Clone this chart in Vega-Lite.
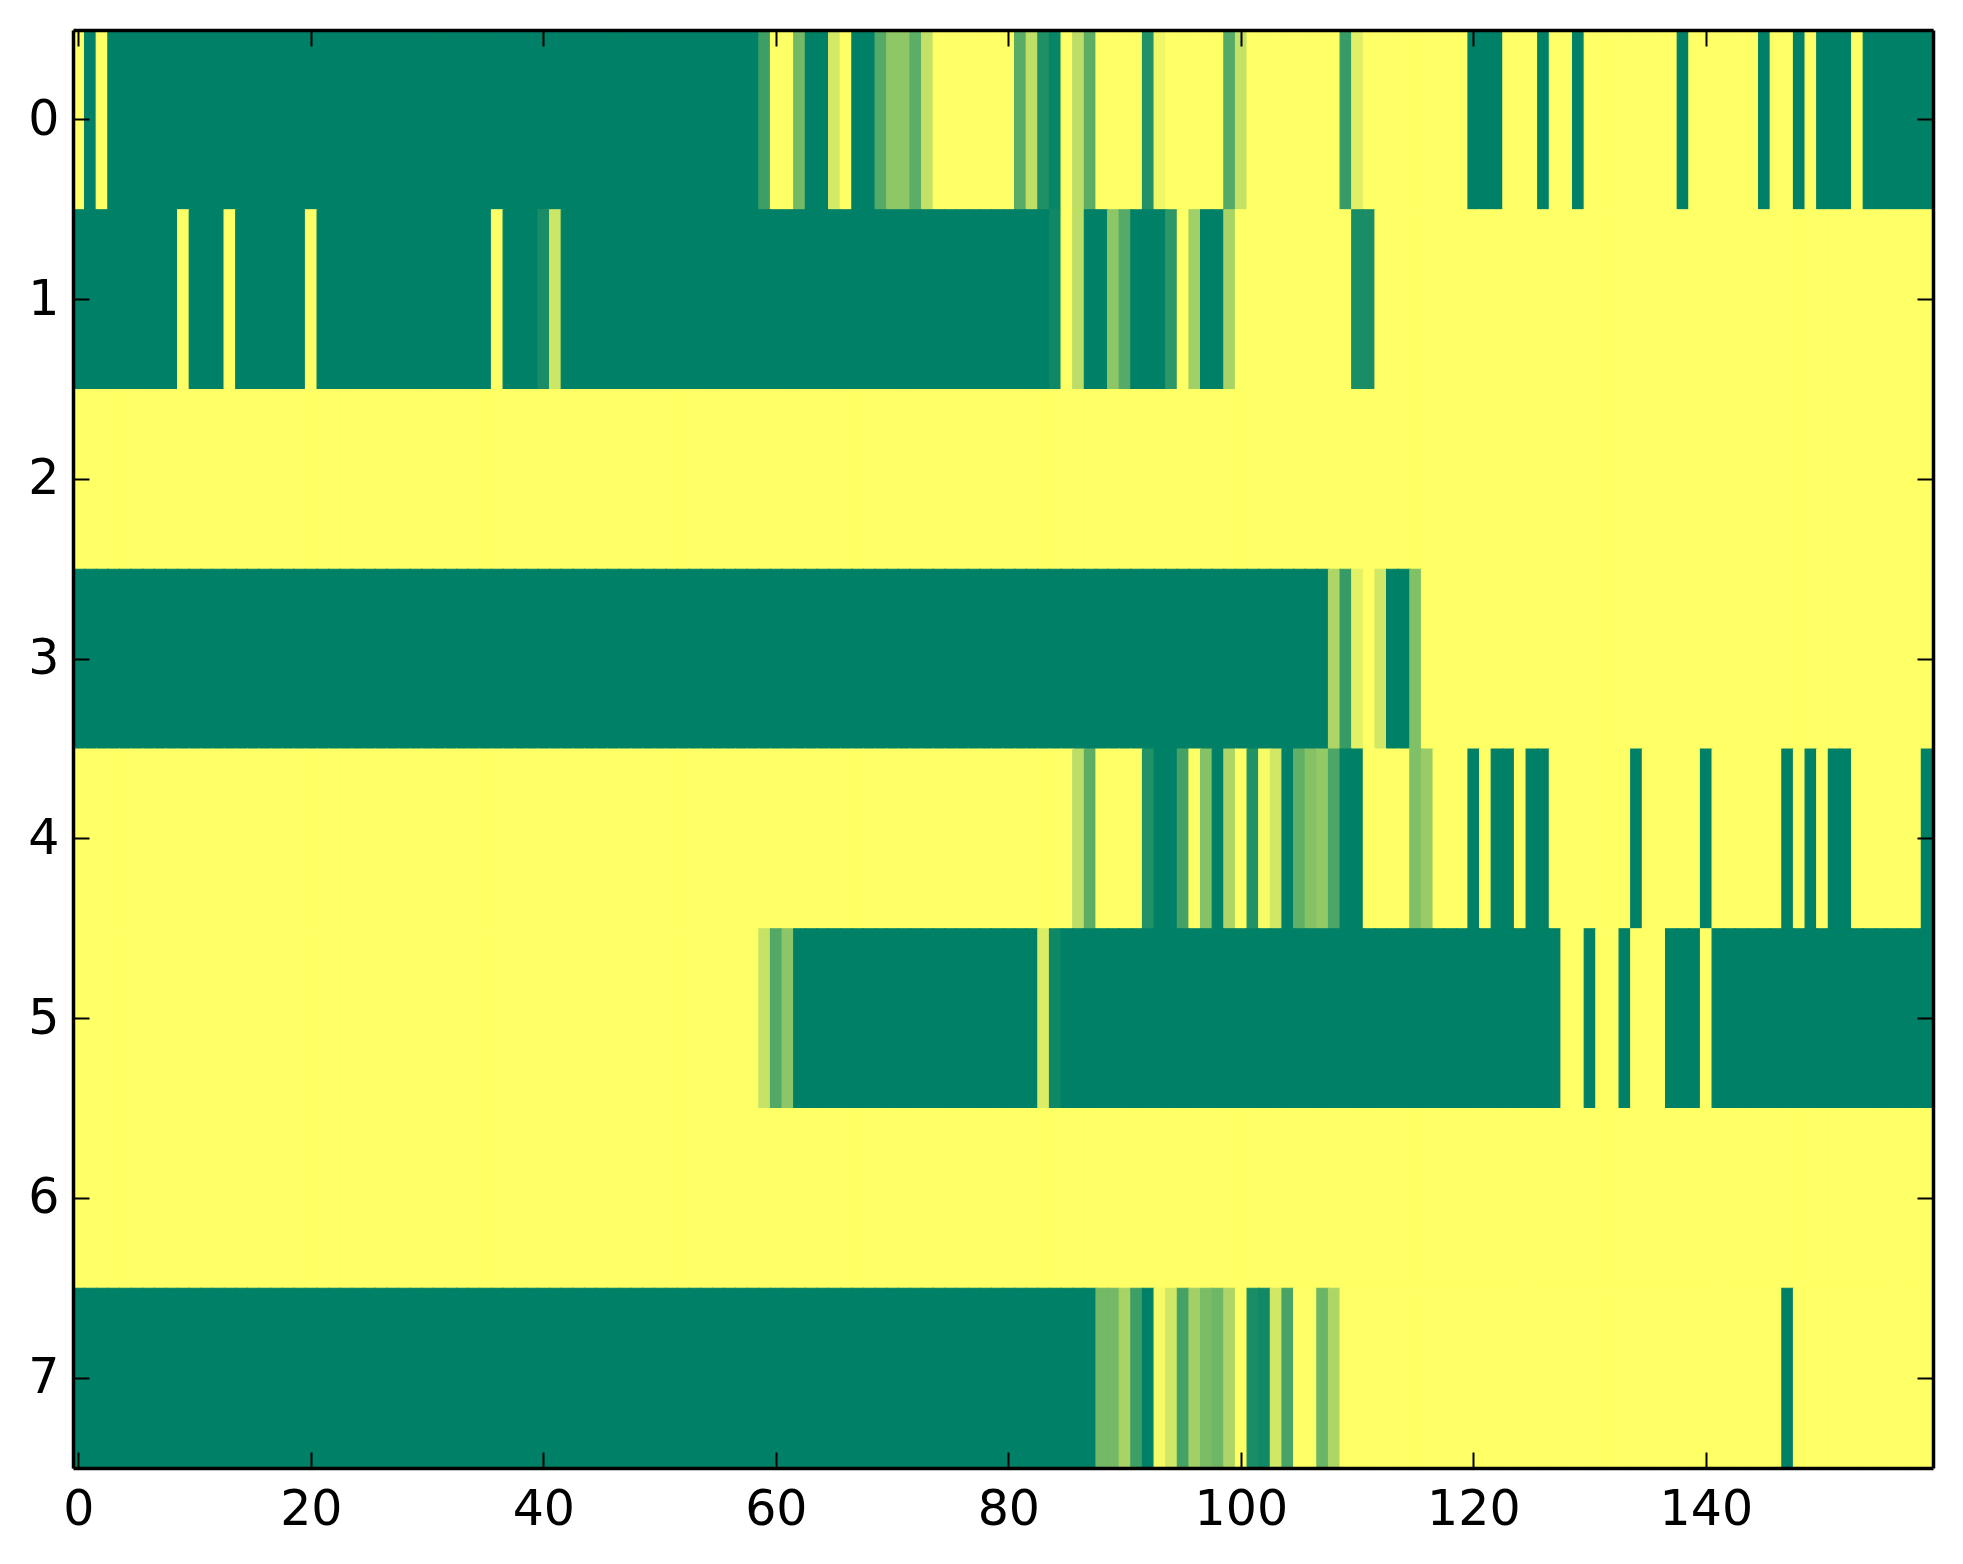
{
  "$schema": "https://vega.github.io/schema/vega-lite/v6.json",
  "width": 1860,
  "height": 1438,
  "autosize": {"type": "none"},
  "padding": {"left": 73, "top": 30, "right": 30, "bottom": 96},
  "background": "white",
  "config": {"view": {"stroke": null}},
  "data": {"values": [
{"r":0,"c":0,"v":1},{"r":0,"c":1,"v":0},{"r":0,"c":2,"v":1},{"r":0,"c":3,"v":0},{"r":0,"c":4,"v":0},{"r":0,"c":5,"v":0},{"r":0,"c":6,"v":0},{"r":0,"c":7,"v":0},{"r":0,"c":8,"v":0},{"r":0,"c":9,"v":0},
{"r":0,"c":10,"v":0},{"r":0,"c":11,"v":0},{"r":0,"c":12,"v":0},{"r":0,"c":13,"v":0},{"r":0,"c":14,"v":0},{"r":0,"c":15,"v":0},{"r":0,"c":16,"v":0},{"r":0,"c":17,"v":0},{"r":0,"c":18,"v":0},{"r":0,"c":19,"v":0},
{"r":0,"c":20,"v":0},{"r":0,"c":21,"v":0},{"r":0,"c":22,"v":0},{"r":0,"c":23,"v":0},{"r":0,"c":24,"v":0},{"r":0,"c":25,"v":0},{"r":0,"c":26,"v":0},{"r":0,"c":27,"v":0},{"r":0,"c":28,"v":0},{"r":0,"c":29,"v":0},
{"r":0,"c":30,"v":0},{"r":0,"c":31,"v":0},{"r":0,"c":32,"v":0},{"r":0,"c":33,"v":0},{"r":0,"c":34,"v":0},{"r":0,"c":35,"v":0},{"r":0,"c":36,"v":0},{"r":0,"c":37,"v":0},{"r":0,"c":38,"v":0},{"r":0,"c":39,"v":0},
{"r":0,"c":40,"v":0},{"r":0,"c":41,"v":0},{"r":0,"c":42,"v":0},{"r":0,"c":43,"v":0},{"r":0,"c":44,"v":0},{"r":0,"c":45,"v":0},{"r":0,"c":46,"v":0},{"r":0,"c":47,"v":0},{"r":0,"c":48,"v":0},{"r":0,"c":49,"v":0},
{"r":0,"c":50,"v":0},{"r":0,"c":51,"v":0},{"r":0,"c":52,"v":0},{"r":0,"c":53,"v":0},{"r":0,"c":54,"v":0},{"r":0,"c":55,"v":0},{"r":0,"c":56,"v":0},{"r":0,"c":57,"v":0},{"r":0,"c":58,"v":0},{"r":0,"c":59,"v":0.24},
{"r":0,"c":60,"v":1},{"r":0,"c":61,"v":1},{"r":0,"c":62,"v":0.45},{"r":0,"c":63,"v":0},{"r":0,"c":64,"v":0},{"r":0,"c":65,"v":0.83},{"r":0,"c":66,"v":1},{"r":0,"c":67,"v":0},{"r":0,"c":68,"v":0},{"r":0,"c":69,"v":0.33},
{"r":0,"c":70,"v":0.56},{"r":0,"c":71,"v":0.56},{"r":0,"c":72,"v":0.36},{"r":0,"c":73,"v":0.76},{"r":0,"c":74,"v":1},{"r":0,"c":75,"v":1},{"r":0,"c":76,"v":1},{"r":0,"c":77,"v":1},{"r":0,"c":78,"v":1},{"r":0,"c":79,"v":1},
{"r":0,"c":80,"v":1},{"r":0,"c":81,"v":0.35},{"r":0,"c":82,"v":0.75},{"r":0,"c":83,"v":0.12},{"r":0,"c":84,"v":0.03},{"r":0,"c":85,"v":1},{"r":0,"c":86,"v":0.74},{"r":0,"c":87,"v":0.36},{"r":0,"c":88,"v":1},{"r":0,"c":89,"v":1},
{"r":0,"c":90,"v":1},{"r":0,"c":91,"v":1},{"r":0,"c":92,"v":0.13},{"r":0,"c":93,"v":0.94},{"r":0,"c":94,"v":1},{"r":0,"c":95,"v":1},{"r":0,"c":96,"v":1},{"r":0,"c":97,"v":1},{"r":0,"c":98,"v":1},{"r":0,"c":99,"v":0.33},
{"r":0,"c":100,"v":0.77},{"r":0,"c":101,"v":1},{"r":0,"c":102,"v":1},{"r":0,"c":103,"v":1},{"r":0,"c":104,"v":1},{"r":0,"c":105,"v":1},{"r":0,"c":106,"v":1},{"r":0,"c":107,"v":1},{"r":0,"c":108,"v":1},{"r":0,"c":109,"v":0.21},
{"r":0,"c":110,"v":0.88},{"r":0,"c":111,"v":1},{"r":0,"c":112,"v":1},{"r":0,"c":113,"v":1},{"r":0,"c":114,"v":1},{"r":0,"c":115,"v":1},{"r":0,"c":116,"v":1},{"r":0,"c":117,"v":1},{"r":0,"c":118,"v":1},{"r":0,"c":119,"v":1},
{"r":0,"c":120,"v":0},{"r":0,"c":121,"v":0},{"r":0,"c":122,"v":0},{"r":0,"c":123,"v":1},{"r":0,"c":124,"v":1},{"r":0,"c":125,"v":1},{"r":0,"c":126,"v":0},{"r":0,"c":127,"v":1},{"r":0,"c":128,"v":1},{"r":0,"c":129,"v":0},
{"r":0,"c":130,"v":1},{"r":0,"c":131,"v":1},{"r":0,"c":132,"v":1},{"r":0,"c":133,"v":1},{"r":0,"c":134,"v":1},{"r":0,"c":135,"v":1},{"r":0,"c":136,"v":1},{"r":0,"c":137,"v":1},{"r":0,"c":138,"v":0},{"r":0,"c":139,"v":1},
{"r":0,"c":140,"v":1},{"r":0,"c":141,"v":1},{"r":0,"c":142,"v":1},{"r":0,"c":143,"v":1},{"r":0,"c":144,"v":1},{"r":0,"c":145,"v":0},{"r":0,"c":146,"v":1},{"r":0,"c":147,"v":1},{"r":0,"c":148,"v":0},{"r":0,"c":149,"v":1},
{"r":0,"c":150,"v":0},{"r":0,"c":151,"v":0},{"r":0,"c":152,"v":0},{"r":0,"c":153,"v":1},{"r":0,"c":154,"v":0},{"r":0,"c":155,"v":0},{"r":0,"c":156,"v":0},{"r":0,"c":157,"v":0},{"r":0,"c":158,"v":0},{"r":0,"c":159,"v":0},
{"r":1,"c":0,"v":0},{"r":1,"c":1,"v":0},{"r":1,"c":2,"v":0},{"r":1,"c":3,"v":0},{"r":1,"c":4,"v":0},{"r":1,"c":5,"v":0},{"r":1,"c":6,"v":0},{"r":1,"c":7,"v":0},{"r":1,"c":8,"v":0},{"r":1,"c":9,"v":1},
{"r":1,"c":10,"v":0},{"r":1,"c":11,"v":0},{"r":1,"c":12,"v":0},{"r":1,"c":13,"v":1},{"r":1,"c":14,"v":0},{"r":1,"c":15,"v":0},{"r":1,"c":16,"v":0},{"r":1,"c":17,"v":0},{"r":1,"c":18,"v":0},{"r":1,"c":19,"v":0},
{"r":1,"c":20,"v":1},{"r":1,"c":21,"v":0},{"r":1,"c":22,"v":0},{"r":1,"c":23,"v":0},{"r":1,"c":24,"v":0},{"r":1,"c":25,"v":0},{"r":1,"c":26,"v":0},{"r":1,"c":27,"v":0},{"r":1,"c":28,"v":0},{"r":1,"c":29,"v":0},
{"r":1,"c":30,"v":0},{"r":1,"c":31,"v":0},{"r":1,"c":32,"v":0},{"r":1,"c":33,"v":0},{"r":1,"c":34,"v":0},{"r":1,"c":35,"v":0},{"r":1,"c":36,"v":1},{"r":1,"c":37,"v":0},{"r":1,"c":38,"v":0},{"r":1,"c":39,"v":0},
{"r":1,"c":40,"v":0.1},{"r":1,"c":41,"v":0.8},{"r":1,"c":42,"v":0},{"r":1,"c":43,"v":0},{"r":1,"c":44,"v":0},{"r":1,"c":45,"v":0},{"r":1,"c":46,"v":0},{"r":1,"c":47,"v":0},{"r":1,"c":48,"v":0},{"r":1,"c":49,"v":0},
{"r":1,"c":50,"v":0},{"r":1,"c":51,"v":0},{"r":1,"c":52,"v":0},{"r":1,"c":53,"v":0},{"r":1,"c":54,"v":0},{"r":1,"c":55,"v":0},{"r":1,"c":56,"v":0},{"r":1,"c":57,"v":0},{"r":1,"c":58,"v":0},{"r":1,"c":59,"v":0},
{"r":1,"c":60,"v":0},{"r":1,"c":61,"v":0},{"r":1,"c":62,"v":0},{"r":1,"c":63,"v":0},{"r":1,"c":64,"v":0},{"r":1,"c":65,"v":0},{"r":1,"c":66,"v":0},{"r":1,"c":67,"v":0},{"r":1,"c":68,"v":0},{"r":1,"c":69,"v":0},
{"r":1,"c":70,"v":0},{"r":1,"c":71,"v":0},{"r":1,"c":72,"v":0},{"r":1,"c":73,"v":0},{"r":1,"c":74,"v":0},{"r":1,"c":75,"v":0},{"r":1,"c":76,"v":0},{"r":1,"c":77,"v":0},{"r":1,"c":78,"v":0},{"r":1,"c":79,"v":0},
{"r":1,"c":80,"v":0},{"r":1,"c":81,"v":0},{"r":1,"c":82,"v":0},{"r":1,"c":83,"v":0},{"r":1,"c":84,"v":0.06},{"r":1,"c":85,"v":1},{"r":1,"c":86,"v":0.74},{"r":1,"c":87,"v":0},{"r":1,"c":88,"v":0},{"r":1,"c":89,"v":0.55},
{"r":1,"c":90,"v":0.33},{"r":1,"c":91,"v":0},{"r":1,"c":92,"v":0},{"r":1,"c":93,"v":0},{"r":1,"c":94,"v":0.18},{"r":1,"c":95,"v":1},{"r":1,"c":96,"v":0.63},{"r":1,"c":97,"v":0},{"r":1,"c":98,"v":0},{"r":1,"c":99,"v":0.66},
{"r":1,"c":100,"v":1},{"r":1,"c":101,"v":1},{"r":1,"c":102,"v":1},{"r":1,"c":103,"v":1},{"r":1,"c":104,"v":1},{"r":1,"c":105,"v":1},{"r":1,"c":106,"v":1},{"r":1,"c":107,"v":1},{"r":1,"c":108,"v":1},{"r":1,"c":109,"v":1},
{"r":1,"c":110,"v":0.1},{"r":1,"c":111,"v":0.1},{"r":1,"c":112,"v":1},{"r":1,"c":113,"v":1},{"r":1,"c":114,"v":1},{"r":1,"c":115,"v":1},{"r":1,"c":116,"v":1},{"r":1,"c":117,"v":1},{"r":1,"c":118,"v":1},{"r":1,"c":119,"v":1},
{"r":1,"c":120,"v":1},{"r":1,"c":121,"v":1},{"r":1,"c":122,"v":1},{"r":1,"c":123,"v":1},{"r":1,"c":124,"v":1},{"r":1,"c":125,"v":1},{"r":1,"c":126,"v":1},{"r":1,"c":127,"v":1},{"r":1,"c":128,"v":1},{"r":1,"c":129,"v":1},
{"r":1,"c":130,"v":1},{"r":1,"c":131,"v":1},{"r":1,"c":132,"v":1},{"r":1,"c":133,"v":1},{"r":1,"c":134,"v":1},{"r":1,"c":135,"v":1},{"r":1,"c":136,"v":1},{"r":1,"c":137,"v":1},{"r":1,"c":138,"v":1},{"r":1,"c":139,"v":1},
{"r":1,"c":140,"v":1},{"r":1,"c":141,"v":1},{"r":1,"c":142,"v":1},{"r":1,"c":143,"v":1},{"r":1,"c":144,"v":1},{"r":1,"c":145,"v":1},{"r":1,"c":146,"v":1},{"r":1,"c":147,"v":1},{"r":1,"c":148,"v":1},{"r":1,"c":149,"v":1},
{"r":1,"c":150,"v":1},{"r":1,"c":151,"v":1},{"r":1,"c":152,"v":1},{"r":1,"c":153,"v":1},{"r":1,"c":154,"v":1},{"r":1,"c":155,"v":1},{"r":1,"c":156,"v":1},{"r":1,"c":157,"v":1},{"r":1,"c":158,"v":1},{"r":1,"c":159,"v":1},
{"r":2,"c":0,"v":1},{"r":2,"c":1,"v":1},{"r":2,"c":2,"v":1},{"r":2,"c":3,"v":1},{"r":2,"c":4,"v":1},{"r":2,"c":5,"v":1},{"r":2,"c":6,"v":1},{"r":2,"c":7,"v":1},{"r":2,"c":8,"v":1},{"r":2,"c":9,"v":1},
{"r":2,"c":10,"v":1},{"r":2,"c":11,"v":1},{"r":2,"c":12,"v":1},{"r":2,"c":13,"v":1},{"r":2,"c":14,"v":1},{"r":2,"c":15,"v":1},{"r":2,"c":16,"v":1},{"r":2,"c":17,"v":1},{"r":2,"c":18,"v":1},{"r":2,"c":19,"v":1},
{"r":2,"c":20,"v":1},{"r":2,"c":21,"v":1},{"r":2,"c":22,"v":1},{"r":2,"c":23,"v":1},{"r":2,"c":24,"v":1},{"r":2,"c":25,"v":1},{"r":2,"c":26,"v":1},{"r":2,"c":27,"v":1},{"r":2,"c":28,"v":1},{"r":2,"c":29,"v":1},
{"r":2,"c":30,"v":1},{"r":2,"c":31,"v":1},{"r":2,"c":32,"v":1},{"r":2,"c":33,"v":1},{"r":2,"c":34,"v":1},{"r":2,"c":35,"v":1},{"r":2,"c":36,"v":1},{"r":2,"c":37,"v":1},{"r":2,"c":38,"v":1},{"r":2,"c":39,"v":1},
{"r":2,"c":40,"v":1},{"r":2,"c":41,"v":1},{"r":2,"c":42,"v":1},{"r":2,"c":43,"v":1},{"r":2,"c":44,"v":1},{"r":2,"c":45,"v":1},{"r":2,"c":46,"v":1},{"r":2,"c":47,"v":1},{"r":2,"c":48,"v":1},{"r":2,"c":49,"v":1},
{"r":2,"c":50,"v":1},{"r":2,"c":51,"v":1},{"r":2,"c":52,"v":1},{"r":2,"c":53,"v":1},{"r":2,"c":54,"v":1},{"r":2,"c":55,"v":1},{"r":2,"c":56,"v":1},{"r":2,"c":57,"v":1},{"r":2,"c":58,"v":1},{"r":2,"c":59,"v":1},
{"r":2,"c":60,"v":1},{"r":2,"c":61,"v":1},{"r":2,"c":62,"v":1},{"r":2,"c":63,"v":1},{"r":2,"c":64,"v":1},{"r":2,"c":65,"v":1},{"r":2,"c":66,"v":1},{"r":2,"c":67,"v":1},{"r":2,"c":68,"v":1},{"r":2,"c":69,"v":1},
{"r":2,"c":70,"v":1},{"r":2,"c":71,"v":1},{"r":2,"c":72,"v":1},{"r":2,"c":73,"v":1},{"r":2,"c":74,"v":1},{"r":2,"c":75,"v":1},{"r":2,"c":76,"v":1},{"r":2,"c":77,"v":1},{"r":2,"c":78,"v":1},{"r":2,"c":79,"v":1},
{"r":2,"c":80,"v":1},{"r":2,"c":81,"v":1},{"r":2,"c":82,"v":1},{"r":2,"c":83,"v":1},{"r":2,"c":84,"v":1},{"r":2,"c":85,"v":1},{"r":2,"c":86,"v":1},{"r":2,"c":87,"v":1},{"r":2,"c":88,"v":1},{"r":2,"c":89,"v":1},
{"r":2,"c":90,"v":1},{"r":2,"c":91,"v":1},{"r":2,"c":92,"v":1},{"r":2,"c":93,"v":1},{"r":2,"c":94,"v":1},{"r":2,"c":95,"v":1},{"r":2,"c":96,"v":1},{"r":2,"c":97,"v":1},{"r":2,"c":98,"v":1},{"r":2,"c":99,"v":1},
{"r":2,"c":100,"v":1},{"r":2,"c":101,"v":1},{"r":2,"c":102,"v":1},{"r":2,"c":103,"v":1},{"r":2,"c":104,"v":1},{"r":2,"c":105,"v":1},{"r":2,"c":106,"v":1},{"r":2,"c":107,"v":1},{"r":2,"c":108,"v":1},{"r":2,"c":109,"v":1},
{"r":2,"c":110,"v":1},{"r":2,"c":111,"v":1},{"r":2,"c":112,"v":1},{"r":2,"c":113,"v":1},{"r":2,"c":114,"v":1},{"r":2,"c":115,"v":1},{"r":2,"c":116,"v":1},{"r":2,"c":117,"v":1},{"r":2,"c":118,"v":1},{"r":2,"c":119,"v":1},
{"r":2,"c":120,"v":1},{"r":2,"c":121,"v":1},{"r":2,"c":122,"v":1},{"r":2,"c":123,"v":1},{"r":2,"c":124,"v":1},{"r":2,"c":125,"v":1},{"r":2,"c":126,"v":1},{"r":2,"c":127,"v":1},{"r":2,"c":128,"v":1},{"r":2,"c":129,"v":1},
{"r":2,"c":130,"v":1},{"r":2,"c":131,"v":1},{"r":2,"c":132,"v":1},{"r":2,"c":133,"v":1},{"r":2,"c":134,"v":1},{"r":2,"c":135,"v":1},{"r":2,"c":136,"v":1},{"r":2,"c":137,"v":1},{"r":2,"c":138,"v":1},{"r":2,"c":139,"v":1},
{"r":2,"c":140,"v":1},{"r":2,"c":141,"v":1},{"r":2,"c":142,"v":1},{"r":2,"c":143,"v":1},{"r":2,"c":144,"v":1},{"r":2,"c":145,"v":1},{"r":2,"c":146,"v":1},{"r":2,"c":147,"v":1},{"r":2,"c":148,"v":1},{"r":2,"c":149,"v":1},
{"r":2,"c":150,"v":1},{"r":2,"c":151,"v":1},{"r":2,"c":152,"v":1},{"r":2,"c":153,"v":1},{"r":2,"c":154,"v":1},{"r":2,"c":155,"v":1},{"r":2,"c":156,"v":1},{"r":2,"c":157,"v":1},{"r":2,"c":158,"v":1},{"r":2,"c":159,"v":1},
{"r":3,"c":0,"v":0},{"r":3,"c":1,"v":0},{"r":3,"c":2,"v":0},{"r":3,"c":3,"v":0},{"r":3,"c":4,"v":0},{"r":3,"c":5,"v":0},{"r":3,"c":6,"v":0},{"r":3,"c":7,"v":0},{"r":3,"c":8,"v":0},{"r":3,"c":9,"v":0},
{"r":3,"c":10,"v":0},{"r":3,"c":11,"v":0},{"r":3,"c":12,"v":0},{"r":3,"c":13,"v":0},{"r":3,"c":14,"v":0},{"r":3,"c":15,"v":0},{"r":3,"c":16,"v":0},{"r":3,"c":17,"v":0},{"r":3,"c":18,"v":0},{"r":3,"c":19,"v":0},
{"r":3,"c":20,"v":0},{"r":3,"c":21,"v":0},{"r":3,"c":22,"v":0},{"r":3,"c":23,"v":0},{"r":3,"c":24,"v":0},{"r":3,"c":25,"v":0},{"r":3,"c":26,"v":0},{"r":3,"c":27,"v":0},{"r":3,"c":28,"v":0},{"r":3,"c":29,"v":0},
{"r":3,"c":30,"v":0},{"r":3,"c":31,"v":0},{"r":3,"c":32,"v":0},{"r":3,"c":33,"v":0},{"r":3,"c":34,"v":0},{"r":3,"c":35,"v":0},{"r":3,"c":36,"v":0},{"r":3,"c":37,"v":0},{"r":3,"c":38,"v":0},{"r":3,"c":39,"v":0},
{"r":3,"c":40,"v":0},{"r":3,"c":41,"v":0},{"r":3,"c":42,"v":0},{"r":3,"c":43,"v":0},{"r":3,"c":44,"v":0},{"r":3,"c":45,"v":0},{"r":3,"c":46,"v":0},{"r":3,"c":47,"v":0},{"r":3,"c":48,"v":0},{"r":3,"c":49,"v":0},
{"r":3,"c":50,"v":0},{"r":3,"c":51,"v":0},{"r":3,"c":52,"v":0},{"r":3,"c":53,"v":0},{"r":3,"c":54,"v":0},{"r":3,"c":55,"v":0},{"r":3,"c":56,"v":0},{"r":3,"c":57,"v":0},{"r":3,"c":58,"v":0},{"r":3,"c":59,"v":0},
{"r":3,"c":60,"v":0},{"r":3,"c":61,"v":0},{"r":3,"c":62,"v":0},{"r":3,"c":63,"v":0},{"r":3,"c":64,"v":0},{"r":3,"c":65,"v":0},{"r":3,"c":66,"v":0},{"r":3,"c":67,"v":0},{"r":3,"c":68,"v":0},{"r":3,"c":69,"v":0},
{"r":3,"c":70,"v":0},{"r":3,"c":71,"v":0},{"r":3,"c":72,"v":0},{"r":3,"c":73,"v":0},{"r":3,"c":74,"v":0},{"r":3,"c":75,"v":0},{"r":3,"c":76,"v":0},{"r":3,"c":77,"v":0},{"r":3,"c":78,"v":0},{"r":3,"c":79,"v":0},
{"r":3,"c":80,"v":0},{"r":3,"c":81,"v":0},{"r":3,"c":82,"v":0},{"r":3,"c":83,"v":0},{"r":3,"c":84,"v":0},{"r":3,"c":85,"v":0},{"r":3,"c":86,"v":0},{"r":3,"c":87,"v":0},{"r":3,"c":88,"v":0},{"r":3,"c":89,"v":0},
{"r":3,"c":90,"v":0},{"r":3,"c":91,"v":0},{"r":3,"c":92,"v":0},{"r":3,"c":93,"v":0},{"r":3,"c":94,"v":0},{"r":3,"c":95,"v":0},{"r":3,"c":96,"v":0},{"r":3,"c":97,"v":0},{"r":3,"c":98,"v":0},{"r":3,"c":99,"v":0},
{"r":3,"c":100,"v":0},{"r":3,"c":101,"v":0},{"r":3,"c":102,"v":0},{"r":3,"c":103,"v":0},{"r":3,"c":104,"v":0},{"r":3,"c":105,"v":0},{"r":3,"c":106,"v":0},{"r":3,"c":107,"v":0},{"r":3,"c":108,"v":0.68},{"r":3,"c":109,"v":0.21},
{"r":3,"c":110,"v":0.89},{"r":3,"c":111,"v":1},{"r":3,"c":112,"v":0.82},{"r":3,"c":113,"v":0},{"r":3,"c":114,"v":0},{"r":3,"c":115,"v":0.5},{"r":3,"c":116,"v":1},{"r":3,"c":117,"v":1},{"r":3,"c":118,"v":1},{"r":3,"c":119,"v":1},
{"r":3,"c":120,"v":1},{"r":3,"c":121,"v":1},{"r":3,"c":122,"v":1},{"r":3,"c":123,"v":1},{"r":3,"c":124,"v":1},{"r":3,"c":125,"v":1},{"r":3,"c":126,"v":1},{"r":3,"c":127,"v":1},{"r":3,"c":128,"v":1},{"r":3,"c":129,"v":1},
{"r":3,"c":130,"v":1},{"r":3,"c":131,"v":1},{"r":3,"c":132,"v":1},{"r":3,"c":133,"v":1},{"r":3,"c":134,"v":1},{"r":3,"c":135,"v":1},{"r":3,"c":136,"v":1},{"r":3,"c":137,"v":1},{"r":3,"c":138,"v":1},{"r":3,"c":139,"v":1},
{"r":3,"c":140,"v":1},{"r":3,"c":141,"v":1},{"r":3,"c":142,"v":1},{"r":3,"c":143,"v":1},{"r":3,"c":144,"v":1},{"r":3,"c":145,"v":1},{"r":3,"c":146,"v":1},{"r":3,"c":147,"v":1},{"r":3,"c":148,"v":1},{"r":3,"c":149,"v":1},
{"r":3,"c":150,"v":1},{"r":3,"c":151,"v":1},{"r":3,"c":152,"v":1},{"r":3,"c":153,"v":1},{"r":3,"c":154,"v":1},{"r":3,"c":155,"v":1},{"r":3,"c":156,"v":1},{"r":3,"c":157,"v":1},{"r":3,"c":158,"v":1},{"r":3,"c":159,"v":1},
{"r":4,"c":0,"v":1},{"r":4,"c":1,"v":1},{"r":4,"c":2,"v":1},{"r":4,"c":3,"v":1},{"r":4,"c":4,"v":1},{"r":4,"c":5,"v":1},{"r":4,"c":6,"v":1},{"r":4,"c":7,"v":1},{"r":4,"c":8,"v":1},{"r":4,"c":9,"v":1},
{"r":4,"c":10,"v":1},{"r":4,"c":11,"v":1},{"r":4,"c":12,"v":1},{"r":4,"c":13,"v":1},{"r":4,"c":14,"v":1},{"r":4,"c":15,"v":1},{"r":4,"c":16,"v":1},{"r":4,"c":17,"v":1},{"r":4,"c":18,"v":1},{"r":4,"c":19,"v":1},
{"r":4,"c":20,"v":1},{"r":4,"c":21,"v":1},{"r":4,"c":22,"v":1},{"r":4,"c":23,"v":1},{"r":4,"c":24,"v":1},{"r":4,"c":25,"v":1},{"r":4,"c":26,"v":1},{"r":4,"c":27,"v":1},{"r":4,"c":28,"v":1},{"r":4,"c":29,"v":1},
{"r":4,"c":30,"v":1},{"r":4,"c":31,"v":1},{"r":4,"c":32,"v":1},{"r":4,"c":33,"v":1},{"r":4,"c":34,"v":1},{"r":4,"c":35,"v":1},{"r":4,"c":36,"v":1},{"r":4,"c":37,"v":1},{"r":4,"c":38,"v":1},{"r":4,"c":39,"v":1},
{"r":4,"c":40,"v":1},{"r":4,"c":41,"v":1},{"r":4,"c":42,"v":1},{"r":4,"c":43,"v":1},{"r":4,"c":44,"v":1},{"r":4,"c":45,"v":1},{"r":4,"c":46,"v":1},{"r":4,"c":47,"v":1},{"r":4,"c":48,"v":1},{"r":4,"c":49,"v":1},
{"r":4,"c":50,"v":1},{"r":4,"c":51,"v":1},{"r":4,"c":52,"v":1},{"r":4,"c":53,"v":1},{"r":4,"c":54,"v":1},{"r":4,"c":55,"v":1},{"r":4,"c":56,"v":1},{"r":4,"c":57,"v":1},{"r":4,"c":58,"v":1},{"r":4,"c":59,"v":1},
{"r":4,"c":60,"v":1},{"r":4,"c":61,"v":1},{"r":4,"c":62,"v":1},{"r":4,"c":63,"v":1},{"r":4,"c":64,"v":1},{"r":4,"c":65,"v":1},{"r":4,"c":66,"v":1},{"r":4,"c":67,"v":1},{"r":4,"c":68,"v":1},{"r":4,"c":69,"v":1},
{"r":4,"c":70,"v":1},{"r":4,"c":71,"v":1},{"r":4,"c":72,"v":1},{"r":4,"c":73,"v":1},{"r":4,"c":74,"v":1},{"r":4,"c":75,"v":1},{"r":4,"c":76,"v":1},{"r":4,"c":77,"v":1},{"r":4,"c":78,"v":1},{"r":4,"c":79,"v":1},
{"r":4,"c":80,"v":1},{"r":4,"c":81,"v":1},{"r":4,"c":82,"v":1},{"r":4,"c":83,"v":1},{"r":4,"c":84,"v":1},{"r":4,"c":85,"v":1},{"r":4,"c":86,"v":0.74},{"r":4,"c":87,"v":0.36},{"r":4,"c":88,"v":1},{"r":4,"c":89,"v":1},
{"r":4,"c":90,"v":1},{"r":4,"c":91,"v":1},{"r":4,"c":92,"v":0.13},{"r":4,"c":93,"v":0},{"r":4,"c":94,"v":0},{"r":4,"c":95,"v":0.27},{"r":4,"c":96,"v":1},{"r":4,"c":97,"v":0.52},{"r":4,"c":98,"v":0},{"r":4,"c":99,"v":0.68},
{"r":4,"c":100,"v":1},{"r":4,"c":101,"v":0.13},{"r":4,"c":102,"v":0.97},{"r":4,"c":103,"v":0.82},{"r":4,"c":104,"v":0},{"r":4,"c":105,"v":0.38},{"r":4,"c":106,"v":0.52},{"r":4,"c":107,"v":0.58},{"r":4,"c":108,"v":0.3},{"r":4,"c":109,"v":0},
{"r":4,"c":110,"v":0},{"r":4,"c":111,"v":1},{"r":4,"c":112,"v":1},{"r":4,"c":113,"v":1},{"r":4,"c":114,"v":1},{"r":4,"c":115,"v":0.5},{"r":4,"c":116,"v":0.6},{"r":4,"c":117,"v":1},{"r":4,"c":118,"v":1},{"r":4,"c":119,"v":1},
{"r":4,"c":120,"v":0},{"r":4,"c":121,"v":1},{"r":4,"c":122,"v":0},{"r":4,"c":123,"v":0},{"r":4,"c":124,"v":1},{"r":4,"c":125,"v":0},{"r":4,"c":126,"v":0},{"r":4,"c":127,"v":1},{"r":4,"c":128,"v":1},{"r":4,"c":129,"v":1},
{"r":4,"c":130,"v":1},{"r":4,"c":131,"v":1},{"r":4,"c":132,"v":1},{"r":4,"c":133,"v":1},{"r":4,"c":134,"v":0},{"r":4,"c":135,"v":1},{"r":4,"c":136,"v":1},{"r":4,"c":137,"v":1},{"r":4,"c":138,"v":1},{"r":4,"c":139,"v":1},
{"r":4,"c":140,"v":0},{"r":4,"c":141,"v":1},{"r":4,"c":142,"v":1},{"r":4,"c":143,"v":1},{"r":4,"c":144,"v":1},{"r":4,"c":145,"v":1},{"r":4,"c":146,"v":1},{"r":4,"c":147,"v":0},{"r":4,"c":148,"v":1},{"r":4,"c":149,"v":0},
{"r":4,"c":150,"v":1},{"r":4,"c":151,"v":0},{"r":4,"c":152,"v":0},{"r":4,"c":153,"v":1},{"r":4,"c":154,"v":1},{"r":4,"c":155,"v":1},{"r":4,"c":156,"v":1},{"r":4,"c":157,"v":1},{"r":4,"c":158,"v":1},{"r":4,"c":159,"v":0},
{"r":5,"c":0,"v":1},{"r":5,"c":1,"v":1},{"r":5,"c":2,"v":1},{"r":5,"c":3,"v":1},{"r":5,"c":4,"v":1},{"r":5,"c":5,"v":1},{"r":5,"c":6,"v":1},{"r":5,"c":7,"v":1},{"r":5,"c":8,"v":1},{"r":5,"c":9,"v":1},
{"r":5,"c":10,"v":1},{"r":5,"c":11,"v":1},{"r":5,"c":12,"v":1},{"r":5,"c":13,"v":1},{"r":5,"c":14,"v":1},{"r":5,"c":15,"v":1},{"r":5,"c":16,"v":1},{"r":5,"c":17,"v":1},{"r":5,"c":18,"v":1},{"r":5,"c":19,"v":1},
{"r":5,"c":20,"v":1},{"r":5,"c":21,"v":1},{"r":5,"c":22,"v":1},{"r":5,"c":23,"v":1},{"r":5,"c":24,"v":1},{"r":5,"c":25,"v":1},{"r":5,"c":26,"v":1},{"r":5,"c":27,"v":1},{"r":5,"c":28,"v":1},{"r":5,"c":29,"v":1},
{"r":5,"c":30,"v":1},{"r":5,"c":31,"v":1},{"r":5,"c":32,"v":1},{"r":5,"c":33,"v":1},{"r":5,"c":34,"v":1},{"r":5,"c":35,"v":1},{"r":5,"c":36,"v":1},{"r":5,"c":37,"v":1},{"r":5,"c":38,"v":1},{"r":5,"c":39,"v":1},
{"r":5,"c":40,"v":1},{"r":5,"c":41,"v":1},{"r":5,"c":42,"v":1},{"r":5,"c":43,"v":1},{"r":5,"c":44,"v":1},{"r":5,"c":45,"v":1},{"r":5,"c":46,"v":1},{"r":5,"c":47,"v":1},{"r":5,"c":48,"v":1},{"r":5,"c":49,"v":1},
{"r":5,"c":50,"v":1},{"r":5,"c":51,"v":1},{"r":5,"c":52,"v":1},{"r":5,"c":53,"v":1},{"r":5,"c":54,"v":1},{"r":5,"c":55,"v":1},{"r":5,"c":56,"v":1},{"r":5,"c":57,"v":1},{"r":5,"c":58,"v":1},{"r":5,"c":59,"v":0.78},
{"r":5,"c":60,"v":0.32},{"r":5,"c":61,"v":0.55},{"r":5,"c":62,"v":0},{"r":5,"c":63,"v":0},{"r":5,"c":64,"v":0},{"r":5,"c":65,"v":0},{"r":5,"c":66,"v":0},{"r":5,"c":67,"v":0},{"r":5,"c":68,"v":0},{"r":5,"c":69,"v":0},
{"r":5,"c":70,"v":0},{"r":5,"c":71,"v":0},{"r":5,"c":72,"v":0},{"r":5,"c":73,"v":0},{"r":5,"c":74,"v":0},{"r":5,"c":75,"v":0},{"r":5,"c":76,"v":0},{"r":5,"c":77,"v":0},{"r":5,"c":78,"v":0},{"r":5,"c":79,"v":0},
{"r":5,"c":80,"v":0},{"r":5,"c":81,"v":0},{"r":5,"c":82,"v":0},{"r":5,"c":83,"v":0.86},{"r":5,"c":84,"v":0.06},{"r":5,"c":85,"v":0},{"r":5,"c":86,"v":0},{"r":5,"c":87,"v":0},{"r":5,"c":88,"v":0},{"r":5,"c":89,"v":0},
{"r":5,"c":90,"v":0},{"r":5,"c":91,"v":0},{"r":5,"c":92,"v":0},{"r":5,"c":93,"v":0},{"r":5,"c":94,"v":0},{"r":5,"c":95,"v":0},{"r":5,"c":96,"v":0},{"r":5,"c":97,"v":0},{"r":5,"c":98,"v":0},{"r":5,"c":99,"v":0},
{"r":5,"c":100,"v":0},{"r":5,"c":101,"v":0},{"r":5,"c":102,"v":0},{"r":5,"c":103,"v":0},{"r":5,"c":104,"v":0},{"r":5,"c":105,"v":0},{"r":5,"c":106,"v":0},{"r":5,"c":107,"v":0},{"r":5,"c":108,"v":0},{"r":5,"c":109,"v":0},
{"r":5,"c":110,"v":0},{"r":5,"c":111,"v":0},{"r":5,"c":112,"v":0},{"r":5,"c":113,"v":0},{"r":5,"c":114,"v":0},{"r":5,"c":115,"v":0},{"r":5,"c":116,"v":0},{"r":5,"c":117,"v":0},{"r":5,"c":118,"v":0},{"r":5,"c":119,"v":0},
{"r":5,"c":120,"v":0},{"r":5,"c":121,"v":0},{"r":5,"c":122,"v":0},{"r":5,"c":123,"v":0},{"r":5,"c":124,"v":0},{"r":5,"c":125,"v":0},{"r":5,"c":126,"v":0},{"r":5,"c":127,"v":0},{"r":5,"c":128,"v":1},{"r":5,"c":129,"v":1},
{"r":5,"c":130,"v":0},{"r":5,"c":131,"v":1},{"r":5,"c":132,"v":1},{"r":5,"c":133,"v":0},{"r":5,"c":134,"v":1},{"r":5,"c":135,"v":1},{"r":5,"c":136,"v":1},{"r":5,"c":137,"v":0},{"r":5,"c":138,"v":0},{"r":5,"c":139,"v":0},
{"r":5,"c":140,"v":1},{"r":5,"c":141,"v":0},{"r":5,"c":142,"v":0},{"r":5,"c":143,"v":0},{"r":5,"c":144,"v":0},{"r":5,"c":145,"v":0},{"r":5,"c":146,"v":0},{"r":5,"c":147,"v":0},{"r":5,"c":148,"v":0},{"r":5,"c":149,"v":0},
{"r":5,"c":150,"v":0},{"r":5,"c":151,"v":0},{"r":5,"c":152,"v":0},{"r":5,"c":153,"v":0},{"r":5,"c":154,"v":0},{"r":5,"c":155,"v":0},{"r":5,"c":156,"v":0},{"r":5,"c":157,"v":0},{"r":5,"c":158,"v":0},{"r":5,"c":159,"v":0},
{"r":6,"c":0,"v":1},{"r":6,"c":1,"v":1},{"r":6,"c":2,"v":1},{"r":6,"c":3,"v":1},{"r":6,"c":4,"v":1},{"r":6,"c":5,"v":1},{"r":6,"c":6,"v":1},{"r":6,"c":7,"v":1},{"r":6,"c":8,"v":1},{"r":6,"c":9,"v":1},
{"r":6,"c":10,"v":1},{"r":6,"c":11,"v":1},{"r":6,"c":12,"v":1},{"r":6,"c":13,"v":1},{"r":6,"c":14,"v":1},{"r":6,"c":15,"v":1},{"r":6,"c":16,"v":1},{"r":6,"c":17,"v":1},{"r":6,"c":18,"v":1},{"r":6,"c":19,"v":1},
{"r":6,"c":20,"v":1},{"r":6,"c":21,"v":1},{"r":6,"c":22,"v":1},{"r":6,"c":23,"v":1},{"r":6,"c":24,"v":1},{"r":6,"c":25,"v":1},{"r":6,"c":26,"v":1},{"r":6,"c":27,"v":1},{"r":6,"c":28,"v":1},{"r":6,"c":29,"v":1},
{"r":6,"c":30,"v":1},{"r":6,"c":31,"v":1},{"r":6,"c":32,"v":1},{"r":6,"c":33,"v":1},{"r":6,"c":34,"v":1},{"r":6,"c":35,"v":1},{"r":6,"c":36,"v":1},{"r":6,"c":37,"v":1},{"r":6,"c":38,"v":1},{"r":6,"c":39,"v":1},
{"r":6,"c":40,"v":1},{"r":6,"c":41,"v":1},{"r":6,"c":42,"v":1},{"r":6,"c":43,"v":1},{"r":6,"c":44,"v":1},{"r":6,"c":45,"v":1},{"r":6,"c":46,"v":1},{"r":6,"c":47,"v":1},{"r":6,"c":48,"v":1},{"r":6,"c":49,"v":1},
{"r":6,"c":50,"v":1},{"r":6,"c":51,"v":1},{"r":6,"c":52,"v":1},{"r":6,"c":53,"v":1},{"r":6,"c":54,"v":1},{"r":6,"c":55,"v":1},{"r":6,"c":56,"v":1},{"r":6,"c":57,"v":1},{"r":6,"c":58,"v":1},{"r":6,"c":59,"v":1},
{"r":6,"c":60,"v":1},{"r":6,"c":61,"v":1},{"r":6,"c":62,"v":1},{"r":6,"c":63,"v":1},{"r":6,"c":64,"v":1},{"r":6,"c":65,"v":1},{"r":6,"c":66,"v":1},{"r":6,"c":67,"v":1},{"r":6,"c":68,"v":1},{"r":6,"c":69,"v":1},
{"r":6,"c":70,"v":1},{"r":6,"c":71,"v":1},{"r":6,"c":72,"v":1},{"r":6,"c":73,"v":1},{"r":6,"c":74,"v":1},{"r":6,"c":75,"v":1},{"r":6,"c":76,"v":1},{"r":6,"c":77,"v":1},{"r":6,"c":78,"v":1},{"r":6,"c":79,"v":1},
{"r":6,"c":80,"v":1},{"r":6,"c":81,"v":1},{"r":6,"c":82,"v":1},{"r":6,"c":83,"v":1},{"r":6,"c":84,"v":1},{"r":6,"c":85,"v":1},{"r":6,"c":86,"v":1},{"r":6,"c":87,"v":1},{"r":6,"c":88,"v":1},{"r":6,"c":89,"v":1},
{"r":6,"c":90,"v":1},{"r":6,"c":91,"v":1},{"r":6,"c":92,"v":1},{"r":6,"c":93,"v":1},{"r":6,"c":94,"v":1},{"r":6,"c":95,"v":1},{"r":6,"c":96,"v":1},{"r":6,"c":97,"v":1},{"r":6,"c":98,"v":1},{"r":6,"c":99,"v":1},
{"r":6,"c":100,"v":1},{"r":6,"c":101,"v":1},{"r":6,"c":102,"v":1},{"r":6,"c":103,"v":1},{"r":6,"c":104,"v":1},{"r":6,"c":105,"v":1},{"r":6,"c":106,"v":1},{"r":6,"c":107,"v":1},{"r":6,"c":108,"v":1},{"r":6,"c":109,"v":1},
{"r":6,"c":110,"v":1},{"r":6,"c":111,"v":1},{"r":6,"c":112,"v":1},{"r":6,"c":113,"v":1},{"r":6,"c":114,"v":1},{"r":6,"c":115,"v":1},{"r":6,"c":116,"v":1},{"r":6,"c":117,"v":1},{"r":6,"c":118,"v":1},{"r":6,"c":119,"v":1},
{"r":6,"c":120,"v":1},{"r":6,"c":121,"v":1},{"r":6,"c":122,"v":1},{"r":6,"c":123,"v":1},{"r":6,"c":124,"v":1},{"r":6,"c":125,"v":1},{"r":6,"c":126,"v":1},{"r":6,"c":127,"v":1},{"r":6,"c":128,"v":1},{"r":6,"c":129,"v":1},
{"r":6,"c":130,"v":1},{"r":6,"c":131,"v":1},{"r":6,"c":132,"v":1},{"r":6,"c":133,"v":1},{"r":6,"c":134,"v":1},{"r":6,"c":135,"v":1},{"r":6,"c":136,"v":1},{"r":6,"c":137,"v":1},{"r":6,"c":138,"v":1},{"r":6,"c":139,"v":1},
{"r":6,"c":140,"v":1},{"r":6,"c":141,"v":1},{"r":6,"c":142,"v":1},{"r":6,"c":143,"v":1},{"r":6,"c":144,"v":1},{"r":6,"c":145,"v":1},{"r":6,"c":146,"v":1},{"r":6,"c":147,"v":1},{"r":6,"c":148,"v":1},{"r":6,"c":149,"v":1},
{"r":6,"c":150,"v":1},{"r":6,"c":151,"v":1},{"r":6,"c":152,"v":1},{"r":6,"c":153,"v":1},{"r":6,"c":154,"v":1},{"r":6,"c":155,"v":1},{"r":6,"c":156,"v":1},{"r":6,"c":157,"v":1},{"r":6,"c":158,"v":1},{"r":6,"c":159,"v":1},
{"r":7,"c":0,"v":0},{"r":7,"c":1,"v":0},{"r":7,"c":2,"v":0},{"r":7,"c":3,"v":0},{"r":7,"c":4,"v":0},{"r":7,"c":5,"v":0},{"r":7,"c":6,"v":0},{"r":7,"c":7,"v":0},{"r":7,"c":8,"v":0},{"r":7,"c":9,"v":0},
{"r":7,"c":10,"v":0},{"r":7,"c":11,"v":0},{"r":7,"c":12,"v":0},{"r":7,"c":13,"v":0},{"r":7,"c":14,"v":0},{"r":7,"c":15,"v":0},{"r":7,"c":16,"v":0},{"r":7,"c":17,"v":0},{"r":7,"c":18,"v":0},{"r":7,"c":19,"v":0},
{"r":7,"c":20,"v":0},{"r":7,"c":21,"v":0},{"r":7,"c":22,"v":0},{"r":7,"c":23,"v":0},{"r":7,"c":24,"v":0},{"r":7,"c":25,"v":0},{"r":7,"c":26,"v":0},{"r":7,"c":27,"v":0},{"r":7,"c":28,"v":0},{"r":7,"c":29,"v":0},
{"r":7,"c":30,"v":0},{"r":7,"c":31,"v":0},{"r":7,"c":32,"v":0},{"r":7,"c":33,"v":0},{"r":7,"c":34,"v":0},{"r":7,"c":35,"v":0},{"r":7,"c":36,"v":0},{"r":7,"c":37,"v":0},{"r":7,"c":38,"v":0},{"r":7,"c":39,"v":0},
{"r":7,"c":40,"v":0},{"r":7,"c":41,"v":0},{"r":7,"c":42,"v":0},{"r":7,"c":43,"v":0},{"r":7,"c":44,"v":0},{"r":7,"c":45,"v":0},{"r":7,"c":46,"v":0},{"r":7,"c":47,"v":0},{"r":7,"c":48,"v":0},{"r":7,"c":49,"v":0},
{"r":7,"c":50,"v":0},{"r":7,"c":51,"v":0},{"r":7,"c":52,"v":0},{"r":7,"c":53,"v":0},{"r":7,"c":54,"v":0},{"r":7,"c":55,"v":0},{"r":7,"c":56,"v":0},{"r":7,"c":57,"v":0},{"r":7,"c":58,"v":0},{"r":7,"c":59,"v":0},
{"r":7,"c":60,"v":0},{"r":7,"c":61,"v":0},{"r":7,"c":62,"v":0},{"r":7,"c":63,"v":0},{"r":7,"c":64,"v":0},{"r":7,"c":65,"v":0},{"r":7,"c":66,"v":0},{"r":7,"c":67,"v":0},{"r":7,"c":68,"v":0},{"r":7,"c":69,"v":0},
{"r":7,"c":70,"v":0},{"r":7,"c":71,"v":0},{"r":7,"c":72,"v":0},{"r":7,"c":73,"v":0},{"r":7,"c":74,"v":0},{"r":7,"c":75,"v":0},{"r":7,"c":76,"v":0},{"r":7,"c":77,"v":0},{"r":7,"c":78,"v":0},{"r":7,"c":79,"v":0},
{"r":7,"c":80,"v":0},{"r":7,"c":81,"v":0},{"r":7,"c":82,"v":0},{"r":7,"c":83,"v":0},{"r":7,"c":84,"v":0},{"r":7,"c":85,"v":0},{"r":7,"c":86,"v":0},{"r":7,"c":87,"v":0},{"r":7,"c":88,"v":0.45},{"r":7,"c":89,"v":0.45},
{"r":7,"c":90,"v":0.66},{"r":7,"c":91,"v":0.24},{"r":7,"c":92,"v":0},{"r":7,"c":93,"v":0.96},{"r":7,"c":94,"v":0.82},{"r":7,"c":95,"v":0.27},{"r":7,"c":96,"v":0.63},{"r":7,"c":97,"v":0.48},{"r":7,"c":98,"v":0.43},{"r":7,"c":99,"v":0.68},
{"r":7,"c":100,"v":1},{"r":7,"c":101,"v":0.1},{"r":7,"c":102,"v":0.07},{"r":7,"c":103,"v":0.82},{"r":7,"c":104,"v":0.28},{"r":7,"c":105,"v":1},{"r":7,"c":106,"v":1},{"r":7,"c":107,"v":0.42},{"r":7,"c":108,"v":0.68},{"r":7,"c":109,"v":1},
{"r":7,"c":110,"v":1},{"r":7,"c":111,"v":1},{"r":7,"c":112,"v":1},{"r":7,"c":113,"v":1},{"r":7,"c":114,"v":1},{"r":7,"c":115,"v":1},{"r":7,"c":116,"v":1},{"r":7,"c":117,"v":1},{"r":7,"c":118,"v":1},{"r":7,"c":119,"v":1},
{"r":7,"c":120,"v":1},{"r":7,"c":121,"v":1},{"r":7,"c":122,"v":1},{"r":7,"c":123,"v":1},{"r":7,"c":124,"v":1},{"r":7,"c":125,"v":1},{"r":7,"c":126,"v":1},{"r":7,"c":127,"v":1},{"r":7,"c":128,"v":1},{"r":7,"c":129,"v":1},
{"r":7,"c":130,"v":1},{"r":7,"c":131,"v":1},{"r":7,"c":132,"v":1},{"r":7,"c":133,"v":1},{"r":7,"c":134,"v":1},{"r":7,"c":135,"v":1},{"r":7,"c":136,"v":1},{"r":7,"c":137,"v":1},{"r":7,"c":138,"v":1},{"r":7,"c":139,"v":1},
{"r":7,"c":140,"v":1},{"r":7,"c":141,"v":1},{"r":7,"c":142,"v":1},{"r":7,"c":143,"v":1},{"r":7,"c":144,"v":1},{"r":7,"c":145,"v":1},{"r":7,"c":146,"v":1},{"r":7,"c":147,"v":0},{"r":7,"c":148,"v":1},{"r":7,"c":149,"v":1},
{"r":7,"c":150,"v":1},{"r":7,"c":151,"v":1},{"r":7,"c":152,"v":1},{"r":7,"c":153,"v":1},{"r":7,"c":154,"v":1},{"r":7,"c":155,"v":1},{"r":7,"c":156,"v":1},{"r":7,"c":157,"v":1},{"r":7,"c":158,"v":1},{"r":7,"c":159,"v":1}
  ]},
  "layer": [
    {
      "mark": {"type": "rect", "strokeWidth": 1.2},
      "encoding": {
        "x": {
          "field": "c", "type": "ordinal",
          "scale": {"paddingInner": 0, "paddingOuter": 0},
          "axis": {
            "orient": "bottom", "title": null,
            "values": [0, 20, 40, 60, 80, 100, 120, 140],
            "labelAngle": 0, "labelFont": "DejaVu Sans", "labelFontSize": 49,
            "labelColor": "black", "labelPadding": 33, "labelBaseline": "top",
            "labelFlush": false, "labelOverlap": false,
            "tickSize": -16, "tickWidth": 2, "tickColor": "black",
            "domainColor": "black", "domainWidth": 3.5, "zindex": 1
          }
        },
        "y": {
          "field": "r", "type": "ordinal",
          "scale": {"paddingInner": 0, "paddingOuter": 0},
          "axis": {
            "orient": "left", "title": null,
            "labelFont": "DejaVu Sans", "labelFontSize": 49,
            "labelColor": "black", "labelPadding": 30, "labelBaseline": "middle",
            "tickSize": -16, "tickWidth": 2, "tickColor": "black",
            "domainColor": "black", "domainWidth": 3.5, "zindex": 1
          }
        },
        "color": {
          "field": "v", "type": "quantitative", "legend": null,
          "scale": {"domain": [0, 1], "range": ["#008066", "#ffff66"], "interpolate": "rgb"}
        },
        "stroke": {
          "field": "v", "type": "quantitative", "legend": null,
          "scale": {"domain": [0, 1], "range": ["#008066", "#ffff66"], "interpolate": "rgb"}
        }
      }
    },
    {
      "transform": [{"filter": "datum.r == 0 && datum.c == 0"}],
      "mark": {"type": "rect", "opacity": 0},
      "encoding": {
        "x": {
          "field": "c", "type": "ordinal",
          "axis": {
            "orient": "top", "title": null, "labels": false,
            "values": [0, 20, 40, 60, 80, 100, 120, 140],
            "tickSize": -16, "tickWidth": 2, "tickColor": "black",
            "domainColor": "black", "domainWidth": 3.5, "zindex": 1
          }
        },
        "y": {
          "field": "r", "type": "ordinal",
          "axis": {
            "orient": "right", "title": null, "labels": false,
            "tickSize": -16, "tickWidth": 2, "tickColor": "black",
            "domainColor": "black", "domainWidth": 3.5, "zindex": 1
          }
        }
      }
    }
  ],
  "resolve": {"axis": {"x": "independent", "y": "independent"}}
}
